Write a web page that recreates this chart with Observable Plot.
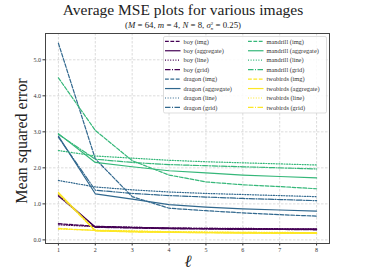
<!DOCTYPE html>
<html><head><meta charset="utf-8">
<script src="https://cdn.jsdelivr.net/npm/d3@7"></script>
<script src="https://cdn.jsdelivr.net/npm/@observablehq/plot@0.6"></script>
<style>
body{margin:0;background:#fff;}
#wrap{position:relative;width:366px;height:274px;overflow:hidden;font-family:"Liberation Serif","DejaVu Serif",serif;}
#title{position:absolute;left:0;width:366px;top:1.5px;line-height:1;text-align:center;font-size:15.5px;color:#222;font-family:"Liberation Serif",serif;}
#sub{position:absolute;left:0;width:366px;top:20.5px;line-height:1;text-align:center;font-size:8.8px;color:#222;}
#ylab{position:absolute;left:22px;top:141px;transform:translate(-50%,-50%) rotate(-90deg);font-size:16px;white-space:nowrap;color:#222;}
#xlab{position:absolute;left:188px;top:262px;transform:translate(-50%,-50%);font-size:17px;font-style:italic;color:#222;}
#chart{position:absolute;left:0;top:0;}
.ss{display:inline-block;vertical-align:middle;line-height:1;font-size:5px;text-align:left;}
</style></head>
<body><div id="wrap">
<div id="chart"></div>
<div id="title">Average MSE plots for various images</div>
<div id="sub">(<i>M</i> = 64, <i>m</i> = 4, <i>N</i> = 8, <i>σ</i><span class="ss">2<br><i>n</i></span> = 0.25)</div>
<div id="ylab">Mean squared error</div>
<div id="xlab">ℓ</div>
</div>
<script>
const ells = [1, 2, 3, 4, 5, 6, 7, 8];
const images = ["boy", "dragon", "mandrill", "twobirds"];
const methods = ["img", "aggregate", "line", "grid"];
const colors = ["#440154", "#31688e", "#35b779", "#fde725"];
const xTicks = [1, 2, 3, 4, 5, 6, 7, 8];
const yTicks = [0, 1, 2, 3, 4, 5];

const boyImg       = [0.45, 0.38, 0.35, 0.33, 0.32, 0.31, 0.30, 0.30];
const boyAggregate = [1.25, 0.36, 0.34, 0.32, 0.31, 0.30, 0.30, 0.29];
const boyLine      = [0.42, 0.37, 0.35, 0.33, 0.32, 0.32, 0.31, 0.31];
const boyGrid      = [1.22, 0.35, 0.33, 0.31, 0.30, 0.29, 0.29, 0.28];

const dragonImg       = [5.46, 2.25, 1.20, 0.88, 0.81, 0.75, 0.70, 0.66];
const dragonAggregate = [2.88, 1.28, 1.13, 0.98, 0.91, 0.86, 0.83, 0.80];
const dragonLine      = [1.65, 1.47, 1.39, 1.33, 1.29, 1.26, 1.23, 1.20];
const dragonGrid      = [2.85, 1.38, 1.29, 1.23, 1.19, 1.15, 1.12, 1.09];

const mandrillImg       = [4.50, 3.04, 2.20, 1.80, 1.61, 1.53, 1.48, 1.42];
const mandrillAggregate = [2.95, 2.15, 2.03, 1.92, 1.86, 1.80, 1.76, 1.72];
const mandrillLine      = [2.48, 2.33, 2.27, 2.21, 2.17, 2.14, 2.11, 2.08];
const mandrillGrid      = [2.93, 2.24, 2.15, 2.09, 2.06, 2.03, 2.00, 1.97];

const twobirdsImg       = [0.32, 0.26, 0.24, 0.22, 0.21, 0.21, 0.20, 0.20];
const twobirdsAggregate = [1.32, 0.26, 0.23, 0.21, 0.20, 0.19, 0.19, 0.18];
const twobirdsLine      = [0.30, 0.27, 0.25, 0.23, 0.22, 0.21, 0.21, 0.20];
const twobirdsGrid      = [1.28, 0.25, 0.22, 0.21, 0.20, 0.19, 0.18, 0.18];

const series = {
  boy: [boyImg, boyAggregate, boyLine, boyGrid],
  dragon: [dragonImg, dragonAggregate, dragonLine, dragonGrid],
  mandrill: [mandrillImg, mandrillAggregate, mandrillLine, mandrillGrid],
  twobirds: [twobirdsImg, twobirdsAggregate, twobirdsLine, twobirdsGrid]
};
const rows = [];
images.forEach(im => methods.forEach((m, mi) => series[im][mi].forEach((v, i) =>
  rows.push({image: im, method: m, key: im + " (" + m + ")", l: ells[i], mse: v}))));

const dashes = {img: "3.8,1.6", aggregate: null, line: "1,1.6", grid: "5.5,1.5,1,1.5"};

const lineMarks = [];
images.forEach(im => methods.forEach(m => {
  lineMarks.push(Plot.line(rows.filter(d => d.image === im && d.method === m), {
    x: "l", y: "mse", stroke: "image", strokeWidth: 1.2,
    strokeDasharray: dashes[m] || undefined
  }));
}));

const W = 366, H = 274;
const chart = Plot.plot({
  width: W, height: H,
  marginLeft: 45, marginRight: 37, marginTop: 33, marginBottom: 31,
  style: {fontFamily: "Liberation Serif, DejaVu Serif, serif", fontSize: "6px", color: "#333", background: "transparent"},
  x: {domain: [0.65, 8.35]},
  y: {domain: [-0.1, 5.73]},
  color: {domain: images, range: colors},
  marks: [
    Plot.gridX(xTicks, {stroke: "#b8b8b8", strokeOpacity: 0.7, strokeDasharray: "2.5,1.5", strokeWidth: 0.7}),
    Plot.gridY(yTicks, {stroke: "#b8b8b8", strokeOpacity: 0.7, strokeDasharray: "2.5,1.5", strokeWidth: 0.7}),
    ...lineMarks,
    Plot.axisX({ticks: xTicks, tickSize: 2.5, tickPadding: 2, label: null}),
    Plot.axisY({ticks: yTicks, tickSize: 2.5, tickPadding: 2, label: null}),
    Plot.frame({stroke: "#444", strokeWidth: 1})
  ]
});
document.getElementById("chart").appendChild(chart);

// legend
const svg = d3.select(chart);
const lg = svg.append("g").attr("text-anchor", "start");
lg.append("rect").attr("x", 163.5).attr("y", 36.5).attr("width", 163).attr("height", 76.5)
  .attr("rx", 1.5).attr("fill", "white").attr("fill-opacity", 0.85)
  .attr("stroke", "#d0d0d0").attr("stroke-width", 0.7);
const cols = [{x0: 165, imgs: ["boy", "dragon"]}, {x0: 248, imgs: ["mandrill", "twobirds"]}];
cols.forEach(c => {
  let r = 0;
  c.imgs.forEach(im => methods.forEach(m => {
    const y = 41.3 + r * 9.45;
    const col = colors[images.indexOf(im)];
    const ln = lg.append("line").attr("x1", c.x0).attr("x2", c.x0 + 15.5).attr("y1", y).attr("y2", y)
      .attr("stroke", col).attr("stroke-width", 1.2);
    if (dashes[m]) ln.attr("stroke-dasharray", dashes[m]);
    lg.append("text").attr("x", c.x0 + 18.5).attr("y", y).attr("dy", "0.35em")
      .attr("text-anchor", "start")
      .attr("font-size", "6.4px").attr("fill", "#333").text(im + " (" + m + ")");
    r++;
  }));
});
</script>
</body></html>
